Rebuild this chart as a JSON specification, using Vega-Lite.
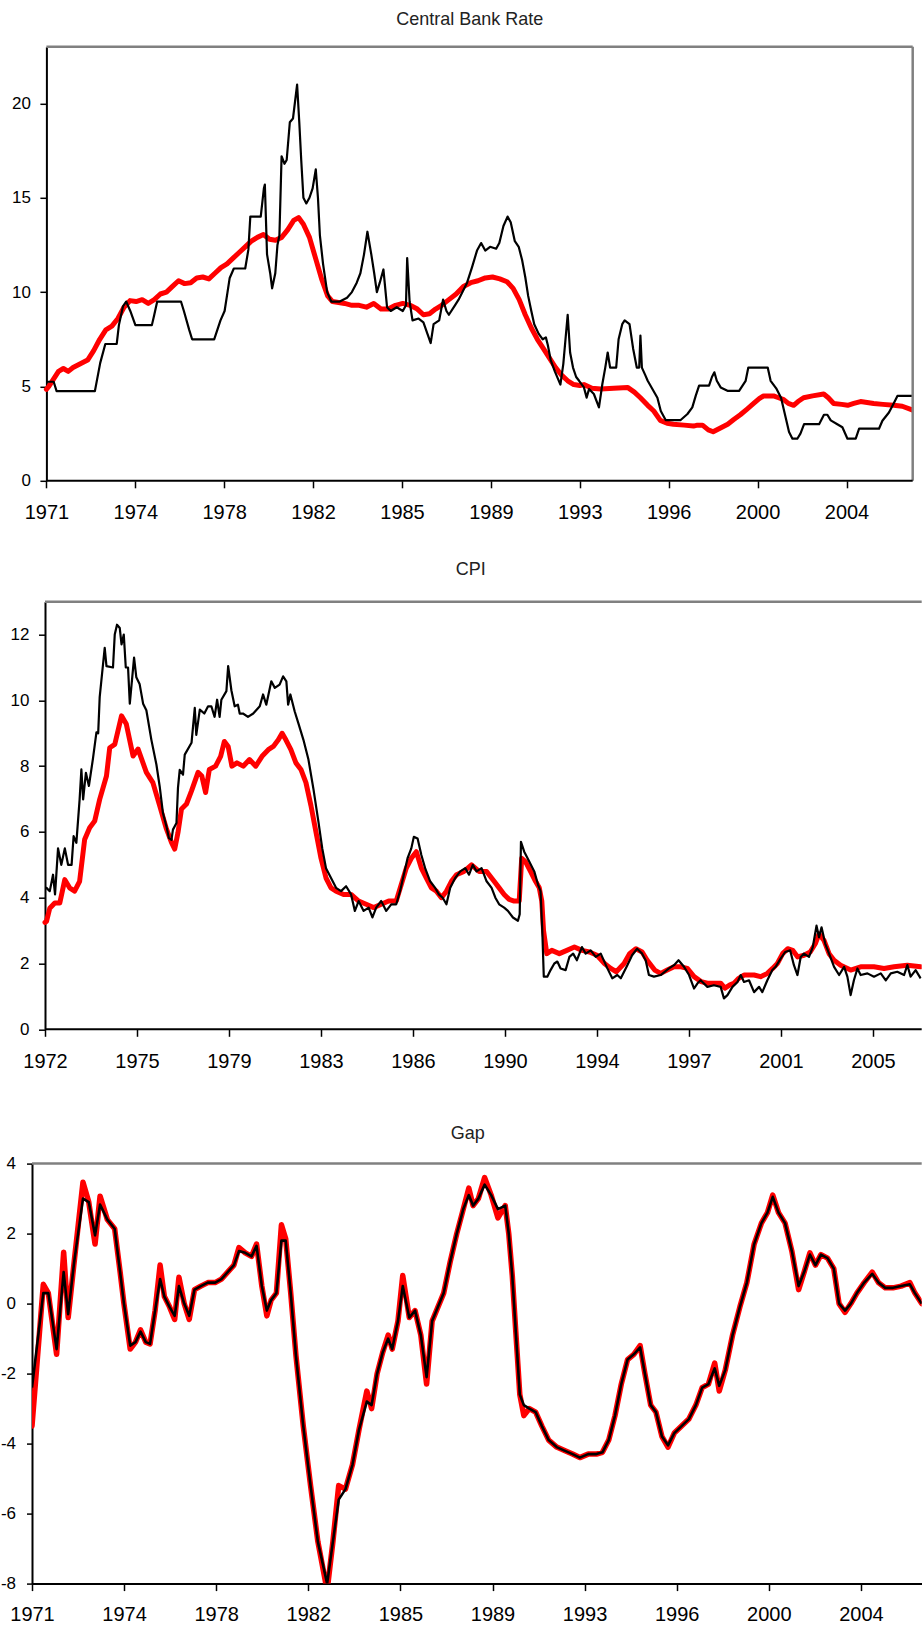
{
  "$schema": "https://vega.github.io/schema/vega-lite/v6.json",
  "background": "white",
  "padding": {"top": 9.8, "left": 0, "right": 0, "bottom": 0},
  "config": {
    "font": "Liberation Sans",
    "axis": {"grid": false, "domainColor": "#000000", "domainWidth": 2, "tickColor": "#000000", "tickWidth": 1.5, "labelColor": "#000000", "labelFont": "Liberation Sans", "title": null},
    "axisX": {"labelFontSize": 20, "tickSize": 7, "labelPadding": 15, "labelFlush": false, "labelOverlap": false},
    "axisY": {"labelFontSize": 17, "tickSize": 6.5, "labelPadding": 9.5},
    "title": {"font": "Liberation Sans", "fontSize": 18, "fontWeight": "normal", "color": "#222222", "anchor": "middle", "baseline": "alphabetic", "frame": "group"}
  },
  "datasets": {
    "rateActual": [
      {"year": 1971.0, "value": 5.25}, {"year": 1971.3, "value": 5.25}, {"year": 1971.42, "value": 4.75}, {"year": 1973.0, "value": 4.75},
      {"year": 1973.22, "value": 6.25}, {"year": 1973.43, "value": 7.25}, {"year": 1973.9, "value": 7.25}, {"year": 1973.99, "value": 8.25},
      {"year": 1974.16, "value": 9.25}, {"year": 1974.29, "value": 9.5}, {"year": 1974.46, "value": 9.0}, {"year": 1974.67, "value": 8.25},
      {"year": 1975.35, "value": 8.25}, {"year": 1975.44, "value": 8.75}, {"year": 1975.57, "value": 9.5}, {"year": 1976.55, "value": 9.5},
      {"year": 1976.67, "value": 9.0}, {"year": 1976.89, "value": 8.0}, {"year": 1977.01, "value": 7.5}, {"year": 1977.92, "value": 7.5},
      {"year": 1978.05, "value": 8.0}, {"year": 1978.18, "value": 8.5}, {"year": 1978.35, "value": 9.0}, {"year": 1978.47, "value": 10.0},
      {"year": 1978.56, "value": 10.75}, {"year": 1978.73, "value": 11.25}, {"year": 1979.2, "value": 11.25}, {"year": 1979.33, "value": 12.25},
      {"year": 1979.41, "value": 14.0}, {"year": 1979.84, "value": 14.0}, {"year": 1979.97, "value": 15.5}, {"year": 1980.01, "value": 15.7},
      {"year": 1980.1, "value": 12.0}, {"year": 1980.23, "value": 11.0}, {"year": 1980.31, "value": 10.2}, {"year": 1980.44, "value": 11.0},
      {"year": 1980.53, "value": 12.5}, {"year": 1980.61, "value": 13.0}, {"year": 1980.7, "value": 17.2}, {"year": 1980.82, "value": 16.8},
      {"year": 1980.91, "value": 17.0}, {"year": 1981.04, "value": 19.0}, {"year": 1981.17, "value": 19.2}, {"year": 1981.34, "value": 21.0},
      {"year": 1981.43, "value": 19.0}, {"year": 1981.51, "value": 17.0}, {"year": 1981.6, "value": 15.0}, {"year": 1981.72, "value": 14.7},
      {"year": 1981.85, "value": 15.0}, {"year": 1981.98, "value": 15.5}, {"year": 1982.11, "value": 16.5}, {"year": 1982.2, "value": 15.0},
      {"year": 1982.28, "value": 13.0}, {"year": 1982.41, "value": 11.5}, {"year": 1982.58, "value": 10.0}, {"year": 1982.75, "value": 9.5},
      {"year": 1983.1, "value": 9.5}, {"year": 1983.4, "value": 9.7}, {"year": 1983.6, "value": 10.0}, {"year": 1983.8, "value": 10.5},
      {"year": 1983.95, "value": 11.0}, {"year": 1984.1, "value": 12.0}, {"year": 1984.24, "value": 13.2}, {"year": 1984.4, "value": 12.0},
      {"year": 1984.52, "value": 11.0}, {"year": 1984.63, "value": 10.0}, {"year": 1984.75, "value": 10.5}, {"year": 1984.9, "value": 11.2},
      {"year": 1985.05, "value": 9.2}, {"year": 1985.2, "value": 9.0}, {"year": 1985.45, "value": 9.2}, {"year": 1985.7, "value": 9.0},
      {"year": 1985.83, "value": 9.3}, {"year": 1985.88, "value": 11.8}, {"year": 1985.98, "value": 9.5}, {"year": 1986.1, "value": 8.5},
      {"year": 1986.35, "value": 8.6}, {"year": 1986.55, "value": 8.4}, {"year": 1986.85, "value": 7.3}, {"year": 1986.97, "value": 8.3},
      {"year": 1987.2, "value": 8.5}, {"year": 1987.36, "value": 9.6}, {"year": 1987.5, "value": 9.0}, {"year": 1987.6, "value": 8.8},
      {"year": 1987.85, "value": 9.3}, {"year": 1988.0, "value": 9.6}, {"year": 1988.35, "value": 10.5}, {"year": 1988.55, "value": 11.3},
      {"year": 1988.76, "value": 12.2}, {"year": 1988.93, "value": 12.6}, {"year": 1989.1, "value": 12.2}, {"year": 1989.3, "value": 12.4},
      {"year": 1989.55, "value": 12.3}, {"year": 1989.68, "value": 12.6}, {"year": 1989.85, "value": 13.5}, {"year": 1990.02, "value": 14.0},
      {"year": 1990.15, "value": 13.7}, {"year": 1990.32, "value": 12.7}, {"year": 1990.48, "value": 12.4}, {"year": 1990.62, "value": 11.7},
      {"year": 1990.75, "value": 10.8}, {"year": 1990.87, "value": 9.8}, {"year": 1991.0, "value": 9.0}, {"year": 1991.12, "value": 8.3},
      {"year": 1991.3, "value": 7.8}, {"year": 1991.47, "value": 7.5}, {"year": 1991.6, "value": 7.6}, {"year": 1991.68, "value": 7.2},
      {"year": 1991.8, "value": 6.4}, {"year": 1991.97, "value": 5.8}, {"year": 1992.2, "value": 5.1}, {"year": 1992.32, "value": 6.2},
      {"year": 1992.5, "value": 8.8}, {"year": 1992.6, "value": 6.8}, {"year": 1992.72, "value": 6.0}, {"year": 1992.85, "value": 5.5},
      {"year": 1992.97, "value": 5.3}, {"year": 1993.17, "value": 4.95}, {"year": 1993.28, "value": 4.41}, {"year": 1993.38, "value": 4.86},
      {"year": 1993.58, "value": 4.6}, {"year": 1993.79, "value": 3.89}, {"year": 1993.93, "value": 5.13}, {"year": 1994.05, "value": 6.0},
      {"year": 1994.15, "value": 6.8}, {"year": 1994.25, "value": 6.0}, {"year": 1994.5, "value": 6.0}, {"year": 1994.6, "value": 7.5},
      {"year": 1994.75, "value": 8.3}, {"year": 1994.85, "value": 8.5}, {"year": 1995.05, "value": 8.3}, {"year": 1995.2, "value": 7.0},
      {"year": 1995.35, "value": 6.0}, {"year": 1995.45, "value": 6.0}, {"year": 1995.5, "value": 7.7}, {"year": 1995.56, "value": 6.0},
      {"year": 1995.7, "value": 5.6}, {"year": 1995.8, "value": 5.3}, {"year": 1996.2, "value": 4.4}, {"year": 1996.34, "value": 3.7},
      {"year": 1996.54, "value": 3.22}, {"year": 1997.16, "value": 3.22}, {"year": 1997.44, "value": 3.54}, {"year": 1997.64, "value": 3.89},
      {"year": 1997.78, "value": 4.5}, {"year": 1997.92, "value": 5.04}, {"year": 1998.33, "value": 5.04}, {"year": 1998.45, "value": 5.5},
      {"year": 1998.55, "value": 5.75}, {"year": 1998.65, "value": 5.3}, {"year": 1998.81, "value": 4.95}, {"year": 1999.09, "value": 4.77},
      {"year": 1999.57, "value": 4.77}, {"year": 1999.84, "value": 5.3}, {"year": 1999.95, "value": 6.0}, {"year": 2000.75, "value": 6.0},
      {"year": 2000.87, "value": 5.3}, {"year": 2001.1, "value": 4.9}, {"year": 2001.3, "value": 4.4}, {"year": 2001.5, "value": 3.3},
      {"year": 2001.63, "value": 2.58}, {"year": 2001.77, "value": 2.23}, {"year": 2001.97, "value": 2.23}, {"year": 2002.1, "value": 2.5},
      {"year": 2002.25, "value": 3.0}, {"year": 2002.87, "value": 3.0}, {"year": 2003.07, "value": 3.5}, {"year": 2003.21, "value": 3.5},
      {"year": 2003.35, "value": 3.2}, {"year": 2003.62, "value": 3.0}, {"year": 2003.83, "value": 2.84}, {"year": 2004.04, "value": 2.23},
      {"year": 2004.38, "value": 2.23}, {"year": 2004.52, "value": 2.76}, {"year": 2005.34, "value": 2.76}, {"year": 2005.48, "value": 3.18},
      {"year": 2005.75, "value": 3.62}, {"year": 2005.96, "value": 4.14}, {"year": 2006.1, "value": 4.5}, {"year": 2006.73, "value": 4.5}
    ],
    "rateTrend": [
      {"year": 1971.0, "value": 4.85}, {"year": 1971.1, "value": 5.0}, {"year": 1971.3, "value": 5.4}, {"year": 1971.5, "value": 5.8},
      {"year": 1971.7, "value": 5.95}, {"year": 1971.9, "value": 5.8}, {"year": 1972.1, "value": 6.0}, {"year": 1972.4, "value": 6.2},
      {"year": 1972.7, "value": 6.4}, {"year": 1972.95, "value": 6.9}, {"year": 1973.2, "value": 7.5}, {"year": 1973.45, "value": 8.0},
      {"year": 1973.7, "value": 8.2}, {"year": 1973.95, "value": 8.6}, {"year": 1974.2, "value": 9.2}, {"year": 1974.45, "value": 9.55},
      {"year": 1974.7, "value": 9.5}, {"year": 1974.95, "value": 9.6}, {"year": 1975.2, "value": 9.4}, {"year": 1975.45, "value": 9.6},
      {"year": 1975.7, "value": 9.9}, {"year": 1975.95, "value": 10.0}, {"year": 1976.2, "value": 10.3}, {"year": 1976.45, "value": 10.6},
      {"year": 1976.7, "value": 10.45}, {"year": 1976.95, "value": 10.5}, {"year": 1977.2, "value": 10.75}, {"year": 1977.45, "value": 10.8},
      {"year": 1977.7, "value": 10.7}, {"year": 1977.95, "value": 11.0}, {"year": 1978.2, "value": 11.3}, {"year": 1978.45, "value": 11.5},
      {"year": 1978.7, "value": 11.8}, {"year": 1978.95, "value": 12.1}, {"year": 1979.2, "value": 12.4}, {"year": 1979.45, "value": 12.7},
      {"year": 1979.7, "value": 12.9}, {"year": 1979.95, "value": 13.05}, {"year": 1980.2, "value": 12.8}, {"year": 1980.45, "value": 12.75},
      {"year": 1980.7, "value": 12.9}, {"year": 1980.95, "value": 13.3}, {"year": 1981.2, "value": 13.8}, {"year": 1981.4, "value": 13.95},
      {"year": 1981.6, "value": 13.6}, {"year": 1981.85, "value": 12.9}, {"year": 1982.1, "value": 11.8}, {"year": 1982.35, "value": 10.7},
      {"year": 1982.6, "value": 9.8}, {"year": 1982.8, "value": 9.5}, {"year": 1983.05, "value": 9.45}, {"year": 1983.3, "value": 9.4},
      {"year": 1983.6, "value": 9.3}, {"year": 1983.9, "value": 9.3}, {"year": 1984.2, "value": 9.2}, {"year": 1984.5, "value": 9.4},
      {"year": 1984.8, "value": 9.1}, {"year": 1985.1, "value": 9.1}, {"year": 1985.4, "value": 9.3}, {"year": 1985.7, "value": 9.4},
      {"year": 1986.0, "value": 9.3}, {"year": 1986.3, "value": 9.1}, {"year": 1986.55, "value": 8.8}, {"year": 1986.8, "value": 8.85},
      {"year": 1987.05, "value": 9.1}, {"year": 1987.3, "value": 9.3}, {"year": 1987.6, "value": 9.6}, {"year": 1987.9, "value": 9.9},
      {"year": 1988.2, "value": 10.3}, {"year": 1988.5, "value": 10.5}, {"year": 1988.8, "value": 10.6}, {"year": 1989.1, "value": 10.75},
      {"year": 1989.4, "value": 10.8}, {"year": 1989.7, "value": 10.7}, {"year": 1990.0, "value": 10.55}, {"year": 1990.25, "value": 10.2},
      {"year": 1990.5, "value": 9.6}, {"year": 1990.75, "value": 8.8}, {"year": 1991.0, "value": 8.1}, {"year": 1991.25, "value": 7.5},
      {"year": 1991.5, "value": 7.0}, {"year": 1991.75, "value": 6.5}, {"year": 1992.0, "value": 6.0}, {"year": 1992.25, "value": 5.6},
      {"year": 1992.5, "value": 5.3}, {"year": 1992.75, "value": 5.1}, {"year": 1993.0, "value": 5.05}, {"year": 1993.17, "value": 5.1},
      {"year": 1993.5, "value": 4.9}, {"year": 1993.86, "value": 4.86}, {"year": 1994.4, "value": 4.9}, {"year": 1994.97, "value": 4.95},
      {"year": 1995.25, "value": 4.7}, {"year": 1995.5, "value": 4.4}, {"year": 1995.8, "value": 4.0}, {"year": 1996.05, "value": 3.7},
      {"year": 1996.32, "value": 3.2}, {"year": 1996.6, "value": 3.05}, {"year": 1996.86, "value": 3.0}, {"year": 1997.3, "value": 2.95},
      {"year": 1997.69, "value": 2.9}, {"year": 1997.85, "value": 2.95}, {"year": 1998.06, "value": 2.95}, {"year": 1998.3, "value": 2.7},
      {"year": 1998.5, "value": 2.6}, {"year": 1998.8, "value": 2.8}, {"year": 1999.1, "value": 3.0}, {"year": 1999.35, "value": 3.25},
      {"year": 1999.62, "value": 3.5}, {"year": 1999.9, "value": 3.8}, {"year": 2000.17, "value": 4.1}, {"year": 2000.4, "value": 4.35},
      {"year": 2000.58, "value": 4.5}, {"year": 2000.99, "value": 4.5}, {"year": 2001.2, "value": 4.4}, {"year": 2001.41, "value": 4.3},
      {"year": 2001.6, "value": 4.1}, {"year": 2001.82, "value": 4.0}, {"year": 2002.0, "value": 4.2}, {"year": 2002.23, "value": 4.4},
      {"year": 2002.6, "value": 4.5}, {"year": 2003.06, "value": 4.6}, {"year": 2003.25, "value": 4.4}, {"year": 2003.47, "value": 4.1},
      {"year": 2003.8, "value": 4.05}, {"year": 2004.05, "value": 4.0}, {"year": 2004.3, "value": 4.1}, {"year": 2004.58, "value": 4.2},
      {"year": 2004.85, "value": 4.15}, {"year": 2005.12, "value": 4.1}, {"year": 2005.5, "value": 4.05}, {"year": 2005.95, "value": 4.0},
      {"year": 2006.3, "value": 3.95}, {"year": 2006.73, "value": 3.75}
    ],
    "cpiActual": [
      {"year": 1972.0, "value": 4.3}, {"year": 1972.06, "value": 4.3}, {"year": 1972.19, "value": 4.2}, {"year": 1972.32, "value": 4.7},
      {"year": 1972.4, "value": 4.1}, {"year": 1972.52, "value": 5.5}, {"year": 1972.65, "value": 5.0}, {"year": 1972.79, "value": 5.5},
      {"year": 1972.92, "value": 5.0}, {"year": 1973.06, "value": 5.0}, {"year": 1973.14, "value": 5.87}, {"year": 1973.25, "value": 5.67},
      {"year": 1973.38, "value": 6.99}, {"year": 1973.45, "value": 7.9}, {"year": 1973.52, "value": 6.99}, {"year": 1973.63, "value": 7.8},
      {"year": 1973.75, "value": 7.4}, {"year": 1973.91, "value": 8.22}, {"year": 1974.05, "value": 9.03}, {"year": 1974.12, "value": 9.0},
      {"year": 1974.18, "value": 10.1}, {"year": 1974.38, "value": 11.6}, {"year": 1974.45, "value": 11.04}, {"year": 1974.71, "value": 11.0},
      {"year": 1974.78, "value": 12.0}, {"year": 1974.87, "value": 12.3}, {"year": 1974.98, "value": 12.2}, {"year": 1975.05, "value": 11.7},
      {"year": 1975.14, "value": 12.0}, {"year": 1975.22, "value": 11.0}, {"year": 1975.31, "value": 11.0}, {"year": 1975.38, "value": 9.9},
      {"year": 1975.55, "value": 11.3}, {"year": 1975.64, "value": 10.7}, {"year": 1975.77, "value": 10.5}, {"year": 1975.91, "value": 9.9},
      {"year": 1976.04, "value": 9.7}, {"year": 1976.24, "value": 8.8}, {"year": 1976.44, "value": 8.05}, {"year": 1976.57, "value": 7.39},
      {"year": 1976.7, "value": 6.58}, {"year": 1976.84, "value": 6.17}, {"year": 1976.94, "value": 5.81}, {"year": 1977.04, "value": 5.76},
      {"year": 1977.1, "value": 6.07}, {"year": 1977.24, "value": 6.27}, {"year": 1977.3, "value": 7.34}, {"year": 1977.37, "value": 7.89},
      {"year": 1977.5, "value": 7.74}, {"year": 1977.57, "value": 8.35}, {"year": 1977.84, "value": 8.71}, {"year": 1977.97, "value": 9.77},
      {"year": 1978.03, "value": 8.95}, {"year": 1978.17, "value": 9.72}, {"year": 1978.35, "value": 9.6}, {"year": 1978.5, "value": 9.82},
      {"year": 1978.63, "value": 9.82}, {"year": 1978.76, "value": 9.5}, {"year": 1978.86, "value": 10.02}, {"year": 1978.96, "value": 9.5},
      {"year": 1979.03, "value": 10.02}, {"year": 1979.23, "value": 10.28}, {"year": 1979.3, "value": 11.04}, {"year": 1979.43, "value": 10.3},
      {"year": 1979.56, "value": 9.82}, {"year": 1979.69, "value": 9.87}, {"year": 1979.76, "value": 9.6}, {"year": 1979.89, "value": 9.6},
      {"year": 1980.09, "value": 9.5}, {"year": 1980.3, "value": 9.6}, {"year": 1980.56, "value": 9.82}, {"year": 1980.69, "value": 10.18},
      {"year": 1980.82, "value": 9.87}, {"year": 1981.02, "value": 10.58}, {"year": 1981.16, "value": 10.38}, {"year": 1981.35, "value": 10.48},
      {"year": 1981.49, "value": 10.73}, {"year": 1981.62, "value": 10.58}, {"year": 1981.69, "value": 9.87}, {"year": 1981.78, "value": 10.18},
      {"year": 1981.95, "value": 9.67}, {"year": 1982.1, "value": 9.3}, {"year": 1982.3, "value": 8.8}, {"year": 1982.5, "value": 8.2},
      {"year": 1982.7, "value": 7.3}, {"year": 1982.9, "value": 6.3}, {"year": 1983.05, "value": 5.5}, {"year": 1983.2, "value": 4.9},
      {"year": 1983.4, "value": 4.6}, {"year": 1983.6, "value": 4.3}, {"year": 1983.8, "value": 4.2}, {"year": 1984.0, "value": 4.35},
      {"year": 1984.2, "value": 4.1}, {"year": 1984.35, "value": 3.6}, {"year": 1984.5, "value": 3.9}, {"year": 1984.7, "value": 3.6},
      {"year": 1984.9, "value": 3.7}, {"year": 1985.05, "value": 3.4}, {"year": 1985.2, "value": 3.7}, {"year": 1985.4, "value": 3.9},
      {"year": 1985.6, "value": 3.6}, {"year": 1985.8, "value": 3.8}, {"year": 1986.0, "value": 3.8}, {"year": 1986.15, "value": 4.2},
      {"year": 1986.3, "value": 4.7}, {"year": 1986.45, "value": 5.2}, {"year": 1986.6, "value": 5.5}, {"year": 1986.7, "value": 5.85},
      {"year": 1986.85, "value": 5.8}, {"year": 1987.0, "value": 5.3}, {"year": 1987.15, "value": 4.9}, {"year": 1987.35, "value": 4.5},
      {"year": 1987.55, "value": 4.3}, {"year": 1987.7, "value": 4.1}, {"year": 1987.85, "value": 4.0}, {"year": 1988.0, "value": 3.8},
      {"year": 1988.15, "value": 4.3}, {"year": 1988.35, "value": 4.6}, {"year": 1988.55, "value": 4.8}, {"year": 1988.75, "value": 4.9},
      {"year": 1988.9, "value": 4.7}, {"year": 1989.05, "value": 5.0}, {"year": 1989.2, "value": 4.8}, {"year": 1989.4, "value": 4.9},
      {"year": 1989.6, "value": 4.5}, {"year": 1989.8, "value": 4.3}, {"year": 1989.95, "value": 4.0}, {"year": 1990.1, "value": 3.8},
      {"year": 1990.3, "value": 3.7}, {"year": 1990.45, "value": 3.6}, {"year": 1990.65, "value": 3.4}, {"year": 1990.85, "value": 3.3},
      {"year": 1990.92, "value": 3.5}, {"year": 1990.97, "value": 5.7}, {"year": 1991.1, "value": 5.4}, {"year": 1991.3, "value": 5.1},
      {"year": 1991.5, "value": 4.8}, {"year": 1991.65, "value": 4.4}, {"year": 1991.75, "value": 4.2}, {"year": 1991.82, "value": 3.0},
      {"year": 1991.88, "value": 1.6},
      {"year": 1992.02, "value": 1.6}, {"year": 1992.15, "value": 1.8}, {"year": 1992.3, "value": 2.0}, {"year": 1992.42, "value": 2.06},
      {"year": 1992.55, "value": 1.85}, {"year": 1992.75, "value": 1.8}, {"year": 1992.9, "value": 2.2}, {"year": 1993.05, "value": 2.3},
      {"year": 1993.2, "value": 2.1}, {"year": 1993.4, "value": 2.5}, {"year": 1993.55, "value": 2.3}, {"year": 1993.75, "value": 2.4},
      {"year": 1993.95, "value": 2.2}, {"year": 1994.15, "value": 2.3}, {"year": 1994.41, "value": 1.86}, {"year": 1994.61, "value": 1.55},
      {"year": 1994.81, "value": 1.65}, {"year": 1994.95, "value": 1.55}, {"year": 1995.21, "value": 1.95}, {"year": 1995.4, "value": 2.25},
      {"year": 1995.6, "value": 2.45}, {"year": 1995.8, "value": 2.3}, {"year": 1995.94, "value": 2.1}, {"year": 1996.07, "value": 1.65},
      {"year": 1996.27, "value": 1.6}, {"year": 1996.54, "value": 1.65}, {"year": 1996.87, "value": 1.85}, {"year": 1997.07, "value": 1.95},
      {"year": 1997.25, "value": 2.1}, {"year": 1997.47, "value": 1.9}, {"year": 1997.67, "value": 1.65}, {"year": 1997.87, "value": 1.24},
      {"year": 1998.0, "value": 1.39}, {"year": 1998.13, "value": 1.49}, {"year": 1998.4, "value": 1.29}, {"year": 1998.66, "value": 1.34},
      {"year": 1998.93, "value": 1.29}, {"year": 1999.06, "value": 0.94}, {"year": 1999.2, "value": 1.04}, {"year": 1999.4, "value": 1.29},
      {"year": 1999.6, "value": 1.44}, {"year": 1999.73, "value": 1.65}, {"year": 1999.86, "value": 1.44}, {"year": 2000.06, "value": 1.49},
      {"year": 2000.26, "value": 1.13}, {"year": 2000.46, "value": 1.29}, {"year": 2000.59, "value": 1.13}, {"year": 2000.79, "value": 1.49},
      {"year": 2000.99, "value": 1.8}, {"year": 2001.12, "value": 1.9}, {"year": 2001.32, "value": 2.15}, {"year": 2001.5, "value": 2.35},
      {"year": 2001.7, "value": 2.4}, {"year": 2001.85, "value": 1.95}, {"year": 2001.99, "value": 1.65}, {"year": 2002.12, "value": 2.2},
      {"year": 2002.25, "value": 2.3}, {"year": 2002.45, "value": 2.2}, {"year": 2002.6, "value": 2.5}, {"year": 2002.75, "value": 3.15},
      {"year": 2002.85, "value": 2.8}, {"year": 2002.95, "value": 3.1}, {"year": 2003.1, "value": 2.6}, {"year": 2003.25, "value": 2.3},
      {"year": 2003.45, "value": 1.9}, {"year": 2003.65, "value": 1.65}, {"year": 2003.85, "value": 1.9}, {"year": 2003.98, "value": 1.6},
      {"year": 2004.11, "value": 1.04}, {"year": 2004.24, "value": 1.49}, {"year": 2004.38, "value": 1.85}, {"year": 2004.51, "value": 1.65},
      {"year": 2004.78, "value": 1.7}, {"year": 2005.04, "value": 1.6}, {"year": 2005.31, "value": 1.7}, {"year": 2005.51, "value": 1.49},
      {"year": 2005.71, "value": 1.7}, {"year": 2005.97, "value": 1.75}, {"year": 2006.24, "value": 1.65}, {"year": 2006.37, "value": 1.95},
      {"year": 2006.5, "value": 1.6}, {"year": 2006.7, "value": 1.8}, {"year": 2006.9, "value": 1.55}
    ],
    "cpiTrend": [
      {"year": 1972.0, "value": 3.25}, {"year": 1972.06, "value": 3.28}, {"year": 1972.19, "value": 3.68}, {"year": 1972.39, "value": 3.84},
      {"year": 1972.59, "value": 3.84}, {"year": 1972.79, "value": 4.55}, {"year": 1972.98, "value": 4.3}, {"year": 1973.18, "value": 4.2},
      {"year": 1973.38, "value": 4.5}, {"year": 1973.58, "value": 5.77}, {"year": 1973.78, "value": 6.13}, {"year": 1973.98, "value": 6.33},
      {"year": 1974.18, "value": 6.99}, {"year": 1974.45, "value": 7.7}, {"year": 1974.58, "value": 8.56}, {"year": 1974.78, "value": 8.66},
      {"year": 1975.05, "value": 9.53}, {"year": 1975.24, "value": 9.28}, {"year": 1975.51, "value": 8.31}, {"year": 1975.71, "value": 8.52},
      {"year": 1976.04, "value": 7.81}, {"year": 1976.3, "value": 7.5}, {"year": 1976.57, "value": 6.8}, {"year": 1976.84, "value": 6.09},
      {"year": 1977.04, "value": 5.68}, {"year": 1977.17, "value": 5.48}, {"year": 1977.3, "value": 5.98}, {"year": 1977.44, "value": 6.7},
      {"year": 1977.64, "value": 6.85}, {"year": 1977.84, "value": 7.25}, {"year": 1978.1, "value": 7.81}, {"year": 1978.25, "value": 7.7},
      {"year": 1978.4, "value": 7.2}, {"year": 1978.55, "value": 7.9}, {"year": 1978.8, "value": 8.0}, {"year": 1979.0, "value": 8.3},
      {"year": 1979.15, "value": 8.75}, {"year": 1979.3, "value": 8.6}, {"year": 1979.45, "value": 8.0}, {"year": 1979.65, "value": 8.1},
      {"year": 1979.9, "value": 8.0}, {"year": 1980.15, "value": 8.2}, {"year": 1980.4, "value": 8.0}, {"year": 1980.65, "value": 8.3},
      {"year": 1980.9, "value": 8.5}, {"year": 1981.1, "value": 8.6}, {"year": 1981.3, "value": 8.8}, {"year": 1981.45, "value": 9.0},
      {"year": 1981.6, "value": 8.8}, {"year": 1981.8, "value": 8.5}, {"year": 1982.0, "value": 8.1}, {"year": 1982.2, "value": 7.9},
      {"year": 1982.4, "value": 7.5}, {"year": 1982.6, "value": 6.8}, {"year": 1982.8, "value": 6.0}, {"year": 1983.0, "value": 5.2},
      {"year": 1983.2, "value": 4.6}, {"year": 1983.4, "value": 4.3}, {"year": 1983.6, "value": 4.2}, {"year": 1983.9, "value": 4.1},
      {"year": 1984.2, "value": 4.1}, {"year": 1984.5, "value": 3.9}, {"year": 1984.8, "value": 3.8}, {"year": 1985.1, "value": 3.7},
      {"year": 1985.4, "value": 3.8}, {"year": 1985.7, "value": 3.9}, {"year": 1986.0, "value": 3.9}, {"year": 1986.2, "value": 4.4},
      {"year": 1986.4, "value": 4.9}, {"year": 1986.6, "value": 5.2}, {"year": 1986.8, "value": 5.4}, {"year": 1987.0, "value": 4.9},
      {"year": 1987.2, "value": 4.6}, {"year": 1987.4, "value": 4.3}, {"year": 1987.6, "value": 4.2}, {"year": 1987.8, "value": 4.0},
      {"year": 1988.0, "value": 4.2}, {"year": 1988.2, "value": 4.5}, {"year": 1988.4, "value": 4.7}, {"year": 1988.7, "value": 4.8},
      {"year": 1989.0, "value": 5.0}, {"year": 1989.3, "value": 4.8}, {"year": 1989.6, "value": 4.8}, {"year": 1989.9, "value": 4.5},
      {"year": 1990.1, "value": 4.3}, {"year": 1990.3, "value": 4.1}, {"year": 1990.5, "value": 3.95}, {"year": 1990.7, "value": 3.9},
      {"year": 1990.9, "value": 3.9}, {"year": 1991.0, "value": 5.2}, {"year": 1991.15, "value": 5.1}, {"year": 1991.35, "value": 4.8},
      {"year": 1991.55, "value": 4.5}, {"year": 1991.7, "value": 4.3}, {"year": 1991.8, "value": 3.9}, {"year": 1991.87, "value": 3.0},
      {"year": 1992.0, "value": 2.3},
      {"year": 1992.2, "value": 2.4}, {"year": 1992.5, "value": 2.3}, {"year": 1992.8, "value": 2.4}, {"year": 1993.1, "value": 2.5},
      {"year": 1993.4, "value": 2.4}, {"year": 1993.7, "value": 2.35}, {"year": 1994.0, "value": 2.25}, {"year": 1994.3, "value": 2.0},
      {"year": 1994.55, "value": 1.85}, {"year": 1994.77, "value": 1.75}, {"year": 1995.08, "value": 2.0}, {"year": 1995.3, "value": 2.3},
      {"year": 1995.55, "value": 2.45}, {"year": 1995.8, "value": 2.35}, {"year": 1996.0, "value": 2.1}, {"year": 1996.3, "value": 1.8},
      {"year": 1996.54, "value": 1.7}, {"year": 1996.8, "value": 1.8}, {"year": 1997.07, "value": 1.9}, {"year": 1997.35, "value": 1.9},
      {"year": 1997.6, "value": 1.85}, {"year": 1997.87, "value": 1.6}, {"year": 1998.15, "value": 1.45}, {"year": 1998.4, "value": 1.4},
      {"year": 1998.7, "value": 1.4}, {"year": 1998.93, "value": 1.4}, {"year": 1999.1, "value": 1.25}, {"year": 1999.3, "value": 1.35},
      {"year": 1999.46, "value": 1.4}, {"year": 1999.65, "value": 1.55}, {"year": 1999.86, "value": 1.65}, {"year": 2000.26, "value": 1.65},
      {"year": 2000.52, "value": 1.6}, {"year": 2000.79, "value": 1.7}, {"year": 2001.0, "value": 1.85}, {"year": 2001.19, "value": 2.0},
      {"year": 2001.4, "value": 2.3}, {"year": 2001.6, "value": 2.45}, {"year": 2001.8, "value": 2.4}, {"year": 2002.0, "value": 2.2},
      {"year": 2002.25, "value": 2.25}, {"year": 2002.5, "value": 2.35}, {"year": 2002.7, "value": 2.6}, {"year": 2002.85, "value": 2.9},
      {"year": 2003.05, "value": 2.7}, {"year": 2003.25, "value": 2.3}, {"year": 2003.45, "value": 2.1}, {"year": 2003.71, "value": 1.95},
      {"year": 2004.11, "value": 1.8}, {"year": 2004.51, "value": 1.9}, {"year": 2005.04, "value": 1.9}, {"year": 2005.44, "value": 1.85},
      {"year": 2005.84, "value": 1.9}, {"year": 2006.37, "value": 1.95}, {"year": 2006.9, "value": 1.9}
    ],
    "gapActual": [
      {"year": 1971.0, "value": -2.4}, {"year": 1971.45, "value": 0.3}, {"year": 1971.65, "value": 0.3}, {"year": 1971.98, "value": -1.3},
      {"year": 1972.26, "value": 0.9}, {"year": 1972.44, "value": -0.3}, {"year": 1972.68, "value": 1.2}, {"year": 1973.03, "value": 3.0},
      {"year": 1973.26, "value": 2.9}, {"year": 1973.51, "value": 1.95}, {"year": 1973.71, "value": 2.83}, {"year": 1974.0, "value": 2.4},
      {"year": 1974.29, "value": 2.14}, {"year": 1974.5, "value": 0.95}, {"year": 1974.66, "value": 0.0}, {"year": 1974.91, "value": -1.2},
      {"year": 1975.12, "value": -1.1}, {"year": 1975.32, "value": -0.8}, {"year": 1975.53, "value": -1.1}, {"year": 1975.7, "value": -1.15},
      {"year": 1975.9, "value": -0.2}, {"year": 1976.1, "value": 0.7}, {"year": 1976.27, "value": 0.2}, {"year": 1976.48, "value": -0.1},
      {"year": 1976.68, "value": -0.35}, {"year": 1976.85, "value": 0.5}, {"year": 1977.06, "value": 0.0}, {"year": 1977.26, "value": -0.35},
      {"year": 1977.47, "value": 0.4}, {"year": 1977.72, "value": 0.5}, {"year": 1978.0, "value": 0.6}, {"year": 1978.29, "value": 0.6},
      {"year": 1978.54, "value": 0.7}, {"year": 1978.79, "value": 0.9}, {"year": 1979.04, "value": 1.1}, {"year": 1979.24, "value": 1.5},
      {"year": 1979.49, "value": 1.45}, {"year": 1979.74, "value": 1.35}, {"year": 1979.94, "value": 1.65}, {"year": 1980.15, "value": 0.5},
      {"year": 1980.35, "value": -0.2}, {"year": 1980.52, "value": 0.1}, {"year": 1980.73, "value": 0.3}, {"year": 1980.93, "value": 1.8},
      {"year": 1981.1, "value": 1.8}, {"year": 1981.3, "value": 0.3}, {"year": 1981.51, "value": -1.5}, {"year": 1981.8, "value": -3.5},
      {"year": 1982.09, "value": -5.2}, {"year": 1982.38, "value": -6.8}, {"year": 1982.75, "value": -8.0}, {"year": 1982.98, "value": -6.8},
      {"year": 1983.21, "value": -5.6}, {"year": 1983.48, "value": -5.3}, {"year": 1983.76, "value": -4.6}, {"year": 1984.02, "value": -3.6},
      {"year": 1984.33, "value": -2.8}, {"year": 1984.52, "value": -2.9}, {"year": 1984.74, "value": -2.0}, {"year": 1984.96, "value": -1.4},
      {"year": 1985.18, "value": -1.0}, {"year": 1985.34, "value": -1.3}, {"year": 1985.57, "value": -0.5}, {"year": 1985.76, "value": 0.5},
      {"year": 1986.02, "value": -0.4}, {"year": 1986.25, "value": -0.2}, {"year": 1986.48, "value": -0.9}, {"year": 1986.71, "value": -2.1},
      {"year": 1986.93, "value": -0.5}, {"year": 1987.16, "value": -0.1}, {"year": 1987.39, "value": 0.3}, {"year": 1987.65, "value": 1.2},
      {"year": 1987.91, "value": 2.0}, {"year": 1988.17, "value": 2.7}, {"year": 1988.39, "value": 3.1}, {"year": 1988.56, "value": 2.8},
      {"year": 1988.77, "value": 3.0}, {"year": 1989.02, "value": 3.4}, {"year": 1989.28, "value": 3.1}, {"year": 1989.55, "value": 2.7},
      {"year": 1989.84, "value": 2.8}, {"year": 1989.98, "value": 2.0}, {"year": 1990.12, "value": 0.8}, {"year": 1990.26, "value": -0.8},
      {"year": 1990.42, "value": -2.6}, {"year": 1990.58, "value": -2.9}, {"year": 1990.8, "value": -3.0}, {"year": 1991.05, "value": -3.1},
      {"year": 1991.3, "value": -3.5}, {"year": 1991.57, "value": -3.9}, {"year": 1991.89, "value": -4.1}, {"year": 1992.2, "value": -4.2},
      {"year": 1992.52, "value": -4.3}, {"year": 1992.81, "value": -4.4}, {"year": 1993.14, "value": -4.3}, {"year": 1993.47, "value": -4.3},
      {"year": 1993.71, "value": -4.25}, {"year": 1993.96, "value": -3.9}, {"year": 1994.21, "value": -3.2}, {"year": 1994.46, "value": -2.3},
      {"year": 1994.71, "value": -1.6}, {"year": 1994.96, "value": -1.45}, {"year": 1995.21, "value": -1.25}, {"year": 1995.4, "value": -2.0},
      {"year": 1995.63, "value": -2.9}, {"year": 1995.84, "value": -3.1}, {"year": 1996.08, "value": -3.8}, {"year": 1996.32, "value": -4.05},
      {"year": 1996.57, "value": -3.7}, {"year": 1996.86, "value": -3.5}, {"year": 1997.15, "value": -3.3}, {"year": 1997.43, "value": -2.9},
      {"year": 1997.68, "value": -2.4}, {"year": 1997.93, "value": -2.3}, {"year": 1998.18, "value": -1.85}, {"year": 1998.36, "value": -2.35},
      {"year": 1998.6, "value": -1.9}, {"year": 1998.89, "value": -0.9}, {"year": 1999.18, "value": -0.1}, {"year": 1999.46, "value": 0.6},
      {"year": 1999.75, "value": 1.7}, {"year": 2000.04, "value": 2.3}, {"year": 2000.28, "value": 2.6}, {"year": 2000.49, "value": 3.05},
      {"year": 2000.72, "value": 2.6}, {"year": 2000.98, "value": 2.3}, {"year": 2001.25, "value": 1.5}, {"year": 2001.52, "value": 0.5},
      {"year": 2001.74, "value": 0.9}, {"year": 2001.97, "value": 1.4}, {"year": 2002.19, "value": 1.1}, {"year": 2002.41, "value": 1.4},
      {"year": 2002.67, "value": 1.3}, {"year": 2002.92, "value": 1.0}, {"year": 2003.13, "value": 0.0}, {"year": 2003.37, "value": -0.2},
      {"year": 2003.6, "value": 0.0}, {"year": 2003.84, "value": 0.3}, {"year": 2004.13, "value": 0.6}, {"year": 2004.45, "value": 0.85},
      {"year": 2004.7, "value": 0.6}, {"year": 2004.97, "value": 0.45}, {"year": 2005.28, "value": 0.45}, {"year": 2005.6, "value": 0.5},
      {"year": 2005.95, "value": 0.55}, {"year": 2006.15, "value": 0.3}, {"year": 2006.42, "value": 0.0}
    ],
    "gapTrend": [
      {"year": 1971.0, "value": -3.5}, {"year": 1971.45, "value": 0.55}, {"year": 1971.65, "value": 0.3}, {"year": 1971.98, "value": -1.45},
      {"year": 1972.26, "value": 1.47}, {"year": 1972.44, "value": -0.4}, {"year": 1972.68, "value": 1.2}, {"year": 1973.03, "value": 3.47},
      {"year": 1973.26, "value": 2.9}, {"year": 1973.51, "value": 1.7}, {"year": 1973.71, "value": 3.07}, {"year": 1974.0, "value": 2.4},
      {"year": 1974.29, "value": 2.14}, {"year": 1974.5, "value": 0.95}, {"year": 1974.66, "value": 0.0}, {"year": 1974.91, "value": -1.3},
      {"year": 1975.12, "value": -1.1}, {"year": 1975.32, "value": -0.75}, {"year": 1975.53, "value": -1.1}, {"year": 1975.7, "value": -1.15},
      {"year": 1975.9, "value": -0.2}, {"year": 1976.1, "value": 1.1}, {"year": 1976.27, "value": 0.2}, {"year": 1976.48, "value": -0.1},
      {"year": 1976.68, "value": -0.45}, {"year": 1976.85, "value": 0.75}, {"year": 1977.06, "value": 0.0}, {"year": 1977.26, "value": -0.45},
      {"year": 1977.47, "value": 0.4}, {"year": 1977.72, "value": 0.5}, {"year": 1978.0, "value": 0.6}, {"year": 1978.29, "value": 0.6},
      {"year": 1978.54, "value": 0.7}, {"year": 1978.79, "value": 0.9}, {"year": 1979.04, "value": 1.1}, {"year": 1979.24, "value": 1.6},
      {"year": 1979.49, "value": 1.45}, {"year": 1979.74, "value": 1.35}, {"year": 1979.94, "value": 1.7}, {"year": 1980.15, "value": 0.5},
      {"year": 1980.35, "value": -0.35}, {"year": 1980.52, "value": 0.1}, {"year": 1980.73, "value": 0.3}, {"year": 1980.93, "value": 2.25},
      {"year": 1981.1, "value": 1.85}, {"year": 1981.3, "value": 0.3}, {"year": 1981.51, "value": -1.5}, {"year": 1981.8, "value": -3.5},
      {"year": 1982.09, "value": -5.2}, {"year": 1982.38, "value": -6.8}, {"year": 1982.75, "value": -8.2}, {"year": 1982.98, "value": -6.8},
      {"year": 1983.21, "value": -5.2}, {"year": 1983.48, "value": -5.3}, {"year": 1983.76, "value": -4.6}, {"year": 1984.02, "value": -3.6},
      {"year": 1984.33, "value": -2.5}, {"year": 1984.52, "value": -3.0}, {"year": 1984.74, "value": -2.0}, {"year": 1984.96, "value": -1.4},
      {"year": 1985.18, "value": -0.9}, {"year": 1985.34, "value": -1.3}, {"year": 1985.57, "value": -0.5}, {"year": 1985.76, "value": 0.8},
      {"year": 1986.02, "value": -0.4}, {"year": 1986.25, "value": -0.2}, {"year": 1986.48, "value": -0.9}, {"year": 1986.71, "value": -2.3},
      {"year": 1986.93, "value": -0.5}, {"year": 1987.16, "value": -0.1}, {"year": 1987.39, "value": 0.3}, {"year": 1987.65, "value": 1.2},
      {"year": 1987.91, "value": 2.0}, {"year": 1988.17, "value": 2.7}, {"year": 1988.39, "value": 3.3}, {"year": 1988.56, "value": 2.8},
      {"year": 1988.77, "value": 3.0}, {"year": 1989.02, "value": 3.6}, {"year": 1989.28, "value": 3.1}, {"year": 1989.55, "value": 2.45},
      {"year": 1989.84, "value": 2.8}, {"year": 1989.98, "value": 2.0}, {"year": 1990.12, "value": 0.8}, {"year": 1990.26, "value": -0.8},
      {"year": 1990.42, "value": -2.6}, {"year": 1990.58, "value": -3.2}, {"year": 1990.8, "value": -3.0}, {"year": 1991.05, "value": -3.1},
      {"year": 1991.3, "value": -3.5}, {"year": 1991.57, "value": -3.9}, {"year": 1991.89, "value": -4.1}, {"year": 1992.2, "value": -4.2},
      {"year": 1992.52, "value": -4.3}, {"year": 1992.81, "value": -4.4}, {"year": 1993.14, "value": -4.3}, {"year": 1993.47, "value": -4.3},
      {"year": 1993.71, "value": -4.25}, {"year": 1993.96, "value": -3.9}, {"year": 1994.21, "value": -3.2}, {"year": 1994.46, "value": -2.3},
      {"year": 1994.71, "value": -1.6}, {"year": 1994.96, "value": -1.45}, {"year": 1995.21, "value": -1.2}, {"year": 1995.4, "value": -2.0},
      {"year": 1995.63, "value": -2.9}, {"year": 1995.84, "value": -3.1}, {"year": 1996.08, "value": -3.8}, {"year": 1996.32, "value": -4.1},
      {"year": 1996.57, "value": -3.7}, {"year": 1996.86, "value": -3.5}, {"year": 1997.15, "value": -3.3}, {"year": 1997.43, "value": -2.9},
      {"year": 1997.68, "value": -2.4}, {"year": 1997.93, "value": -2.3}, {"year": 1998.18, "value": -1.7}, {"year": 1998.36, "value": -2.5},
      {"year": 1998.6, "value": -1.9}, {"year": 1998.89, "value": -0.9}, {"year": 1999.18, "value": -0.1}, {"year": 1999.46, "value": 0.6},
      {"year": 1999.75, "value": 1.7}, {"year": 2000.04, "value": 2.3}, {"year": 2000.28, "value": 2.6}, {"year": 2000.49, "value": 3.1},
      {"year": 2000.72, "value": 2.6}, {"year": 2000.98, "value": 2.3}, {"year": 2001.25, "value": 1.5}, {"year": 2001.52, "value": 0.4},
      {"year": 2001.74, "value": 0.9}, {"year": 2001.97, "value": 1.45}, {"year": 2002.19, "value": 1.1}, {"year": 2002.41, "value": 1.4},
      {"year": 2002.67, "value": 1.3}, {"year": 2002.92, "value": 1.0}, {"year": 2003.13, "value": 0.0}, {"year": 2003.37, "value": -0.25},
      {"year": 2003.6, "value": 0.0}, {"year": 2003.84, "value": 0.3}, {"year": 2004.13, "value": 0.6}, {"year": 2004.45, "value": 0.9},
      {"year": 2004.7, "value": 0.6}, {"year": 2004.97, "value": 0.45}, {"year": 2005.28, "value": 0.45}, {"year": 2005.6, "value": 0.5},
      {"year": 2005.95, "value": 0.6}, {"year": 2006.15, "value": 0.3}, {"year": 2006.42, "value": 0.0}
    ]
  },
  "columns": 1,
  "spacing": 37.9,
  "concat": [
    {
      "title": {"text": "Central Bank Rate", "offset": 17, "dx": -2.6},
      "width": 880.7,
      "height": 434,
      "view": {"stroke": null},
      "layer": [
        {
          "data": {"name": "rateTrend"},
          "mark": {"type": "line", "color": "#ff0000", "strokeWidth": 5, "strokeJoin": "round", "strokeCap": "round", "clip": true},
          "encoding": {
            "x": {"field": "year", "type": "quantitative", "scale": {"domain": [1970.406, 2006.73], "nice": false, "zero": false},
                  "axis": {"domain": false, "values": [1971, 1974.6667, 1978.3333, 1982, 1985.6667, 1989.3333, 1993, 1996.6667, 2000.3333, 2004], "labelExpr": "floor(datum.value)"}},
            "y": {"field": "value", "type": "quantitative", "scale": {"domain": [0, 23], "nice": false, "zero": false},
                  "axis": {"values": [0, 5, 10, 15, 20], "offset": -14.4, "minExtent": 0, "maxExtent": 20}}
          }
        },
        {
          "data": {"name": "rateActual"},
          "mark": {"type": "line", "color": "#000000", "strokeWidth": 2.2, "strokeJoin": "round", "clip": true},
          "encoding": {
            "x": {"field": "year", "type": "quantitative"},
            "y": {"field": "value", "type": "quantitative"}
          }
        },
        {
          "data": {"values": [{}]},
          "mark": {"type": "rule", "color": "#808080", "strokeWidth": 2.5},
          "encoding": {"x": {"datum": 1971, "type": "quantitative"}, "x2": {"datum": 2006.73}, "y": {"datum": 23, "type": "quantitative"}}
        },
        {
          "data": {"values": [{}]},
          "mark": {"type": "rule", "color": "#808080", "strokeWidth": 2.5},
          "encoding": {"x": {"datum": 2006.73, "type": "quantitative"}, "y": {"datum": 0, "type": "quantitative"}, "y2": {"datum": 23}}
        },
        {
          "data": {"values": [{}]},
          "mark": {"type": "rule", "color": "#000000", "strokeWidth": 2},
          "encoding": {"x": {"datum": 1971, "type": "quantitative"}, "x2": {"datum": 2006.73}, "y": {"datum": 0, "type": "quantitative"}}
        }
      ]
    },
    {
      "title": {"text": "CPI", "offset": 21.3, "dx": -6},
      "width": 889.7,
      "height": 427.6,
      "view": {"stroke": null},
      "layer": [
        {
          "data": {"name": "cpiTrend"},
          "mark": {"type": "line", "color": "#ff0000", "strokeWidth": 5, "strokeJoin": "round", "strokeCap": "round", "clip": true},
          "encoding": {
            "x": {"field": "year", "type": "quantitative", "scale": {"domain": [1971.482, 2006.942], "nice": false, "zero": false},
                  "axis": {"domain": false, "values": [1972, 1975.6667, 1979.3333, 1983, 1986.6667, 1990.3333, 1994, 1997.6667, 2001.3333, 2005], "labelExpr": "floor(datum.value)", "minExtent": 56.5}},
            "y": {"field": "value", "type": "quantitative", "scale": {"domain": [0, 13], "nice": false, "zero": false},
                  "axis": {"values": [0, 2, 4, 6, 8, 10, 12], "offset": -13, "minExtent": 0, "maxExtent": 20}}
          }
        },
        {
          "data": {"name": "cpiActual"},
          "mark": {"type": "line", "color": "#000000", "strokeWidth": 2.2, "strokeJoin": "round", "clip": true},
          "encoding": {
            "x": {"field": "year", "type": "quantitative"},
            "y": {"field": "value", "type": "quantitative"}
          }
        },
        {
          "data": {"values": [{}]},
          "mark": {"type": "rule", "color": "#808080", "strokeWidth": 2.5},
          "encoding": {"x": {"datum": 1972, "type": "quantitative"}, "x2": {"datum": 2006.942}, "y": {"datum": 13, "type": "quantitative"}}
        },
        {
          "data": {"values": [{}]},
          "mark": {"type": "rule", "color": "#000000", "strokeWidth": 2},
          "encoding": {"x": {"datum": 1972, "type": "quantitative"}, "x2": {"datum": 2006.942}, "y": {"datum": 0, "type": "quantitative"}}
        }
      ]
    },
    {
      "title": {"text": "Gap", "offset": 11.3, "dx": -9},
      "width": 889.7,
      "height": 420,
      "view": {"stroke": null},
      "layer": [
        {
          "data": {"name": "gapTrend"},
          "mark": {"type": "line", "color": "#ff0000", "strokeWidth": 5.5, "strokeJoin": "round", "strokeCap": "round", "clip": true},
          "encoding": {
            "x": {"field": "year", "type": "quantitative", "scale": {"domain": [1971, 2006.42], "nice": false, "zero": false},
                  "axis": {"values": [1971, 1974.6667, 1978.3333, 1982, 1985.6667, 1989.3333, 1993, 1996.6667, 2000.3333, 2004], "labelExpr": "floor(datum.value)", "labelPadding": 14}},
            "y": {"field": "value", "type": "quantitative", "scale": {"domain": [-8, 4], "nice": false, "zero": false},
                  "axis": {"values": [-8, -6, -4, -2, 0, 2, 4], "labelExpr": "datum.value < 0 ? '-' + abs(datum.value) : '' + datum.value", "tickSize": 5.5, "labelPadding": 11, "minExtent": 30.3, "maxExtent": 30.3}}
          }
        },
        {
          "data": {"name": "gapActual"},
          "mark": {"type": "line", "color": "#000000", "strokeWidth": 2.6, "strokeJoin": "round", "clip": true},
          "encoding": {
            "x": {"field": "year", "type": "quantitative"},
            "y": {"field": "value", "type": "quantitative"}
          }
        },
        {
          "data": {"values": [{}]},
          "mark": {"type": "rule", "color": "#808080", "strokeWidth": 2.5},
          "encoding": {"y": {"datum": 4, "type": "quantitative"}}
        }
      ]
    }
  ]
}
